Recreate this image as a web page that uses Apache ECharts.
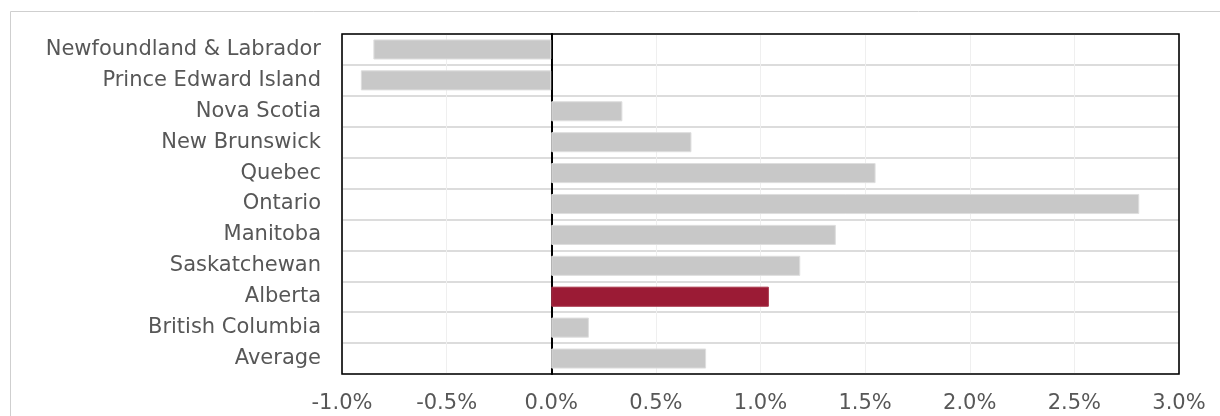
<!DOCTYPE html>
<html>
<head>
<meta charset="utf-8">
<script src="https://cdn.jsdelivr.net/npm/echarts@6/dist/echarts.min.js"></script>
<style>
  html, body { margin: 0; padding: 0; background: #fff; }
  #chart { width: 1220px; height: 416px; }
</style>
</head>
<body>
<div id="chart"></div>
<script>
// Provinces, top to bottom
const provinces = [
  'Newfoundland & Labrador', 'Prince Edward Island', 'Nova Scotia', 'New Brunswick',
  'Quebec', 'Ontario', 'Manitoba', 'Saskatchewan', 'Alberta', 'British Columbia', 'Average'
];
// Growth, percent
const growth = [-0.85, -0.91, 0.34, 0.67, 1.55, 2.81, 1.36, 1.19, 1.04, 0.18, 0.74];
const highlight = 'Alberta';
const xTicks = { min: -1, max: 3, step: 0.5 };

const textColor = '#575757';
const fontFamily = 'DejaVu Sans, sans-serif';
const plot = { left: 342, top: 34, right: 41, bottom: 42 };

const chart = echarts.init(document.getElementById('chart'));
chart.setOption({
  animation: false,
  grid: { left: plot.left, top: plot.top, right: plot.right, bottom: plot.bottom },
  graphic: [{
    type: 'rect', silent: true, z: -1,
    shape: { x: 10.5, y: 11.5, width: 1300, height: 500 },
    style: { fill: 'none', stroke: '#cfcfcf', lineWidth: 1 }
  }, {
    // plot frame, drawn above the grid lines
    type: 'rect', silent: true, z: 100,
    shape: {
      x: plot.left, y: plot.top,
      width: 1220 - plot.left - plot.right, height: 416 - plot.top - plot.bottom
    },
    style: { fill: 'none', stroke: '#000', lineWidth: 1.6 }
  }],
  xAxis: {
    type: 'value', min: xTicks.min, max: xTicks.max, interval: xTicks.step,
    axisLine: { show: false }, axisTick: { show: false },
    splitLine: { show: true, lineStyle: { color: '#efefef', width: 1 } },
    axisLabel: {
      color: textColor, fontSize: 21, fontFamily: fontFamily, margin: 19,
      formatter: v => v.toFixed(1) + '%'
    }
  },
  yAxis: {
    type: 'category', inverse: true, data: provinces,
    axisLine: { show: true, onZero: true, lineStyle: { color: '#000', width: 2 } },
    axisTick: { show: false },
    splitLine: { show: true, lineStyle: { color: '#dcdcdc', width: 2 } },
    axisLabel: { color: textColor, fontSize: 21, fontFamily: fontFamily, margin: 21 }
  },
  series: [{
    type: 'bar',
    barCategoryGap: '35%',
    data: growth.map((v, i) => ({
      value: v,
      itemStyle: provinces[i] === highlight
        ? { color: '#9b1b35', borderColor: '#a8374c', borderWidth: 1 }
        : { color: '#c8c8c8', borderColor: '#dedede', borderWidth: 1 }
    }))
  }]
});
</script>
</body>
</html>
